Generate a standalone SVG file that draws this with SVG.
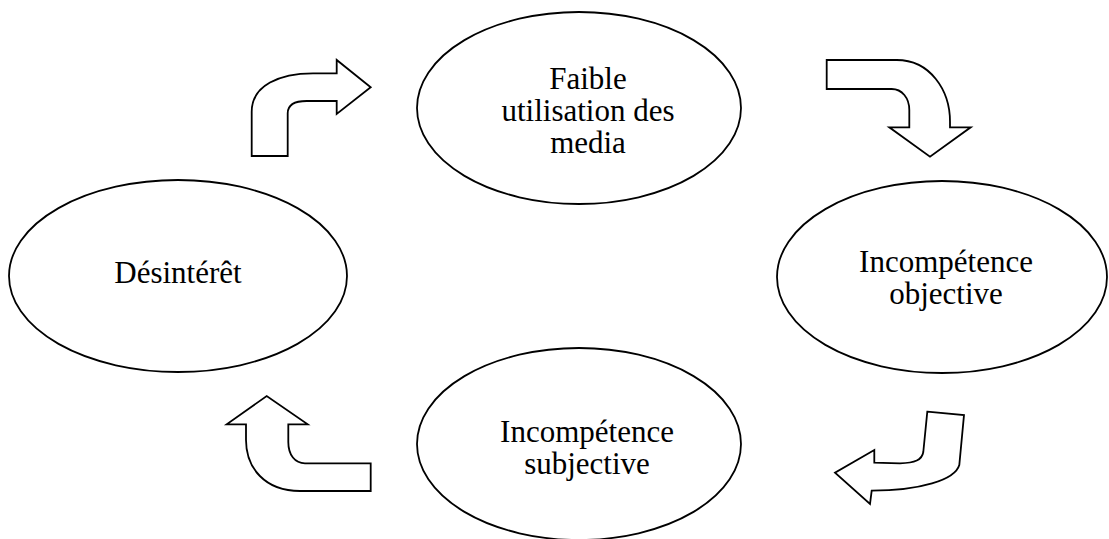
<svg xmlns="http://www.w3.org/2000/svg" width="1109" height="539" viewBox="0 0 1109 539">
<style>
.node ellipse{fill:#fff;stroke:#000;stroke-width:1.8}
.node text{font-family:"Liberation Serif","Times New Roman",serif;font-size:31px;fill:#000;text-anchor:middle}
.conn path{fill:#fff;stroke:#000;stroke-width:1.8;stroke-linejoin:miter}
</style>
<rect width="1109" height="539" fill="#fff"/>
<g id="n-faible" class="node">
<ellipse cx="579" cy="108" rx="162" ry="96"/>
<text x="588" y="89">Faible</text>
<text x="588" y="121">utilisation des</text>
<text x="588" y="153">media</text>
</g>
<g id="n-objective" class="node">
<ellipse cx="942" cy="277" rx="165" ry="96"/>
<text x="946" y="272">Incompétence</text>
<text x="946" y="304">objective</text>
</g>
<g id="n-subjective" class="node">
<ellipse cx="579" cy="444" rx="162" ry="96"/>
<text x="587" y="442">Incompétence</text>
<text x="587" y="474">subjective</text>
</g>
<g id="n-desinteret" class="node">
<ellipse cx="178" cy="276" rx="169" ry="96"/>
<text x="178" y="283">Désintérêt</text>
</g>
<g id="connectors" class="conn">
<path d="M251.7,156 L251.7,111.7 C251.7,85 280,73.3 313,73.3 L336.7,73.3 L336.7,60 L370.7,87.3 L336.7,114 L336.7,101 L306.7,101 C295,101 287.7,104 287.7,113.3 L287.7,156 Z"/>
<path d="M826.7,60 L896.7,60 C930,60 950,90 950,121.7 L950,127.3 L970.7,127.3 L930,156.7 L889.3,127.3 L909.3,127.3 L909.3,110 C909.3,98 902,89 891.7,89 L826.7,89 Z"/>
<path d="M927.3,411.7 L964,415 L959.3,465 C955,480 920,490.7 871.7,490.7 L870,504 L835,472.7 L874.3,450 L874.3,462.7 L900,463.3 C915,463 922,460 923.3,452 Z"/>
<path d="M246,424.3 L226.7,424.3 L266.7,396 L307.7,424.3 L288.3,424.3 L288.3,442 C288.3,455 295,463.3 305,463.3 L370.7,463.3 L370.7,491 L300,491 C265,491 246,468 246,440 Z"/>
</g>
</svg>
